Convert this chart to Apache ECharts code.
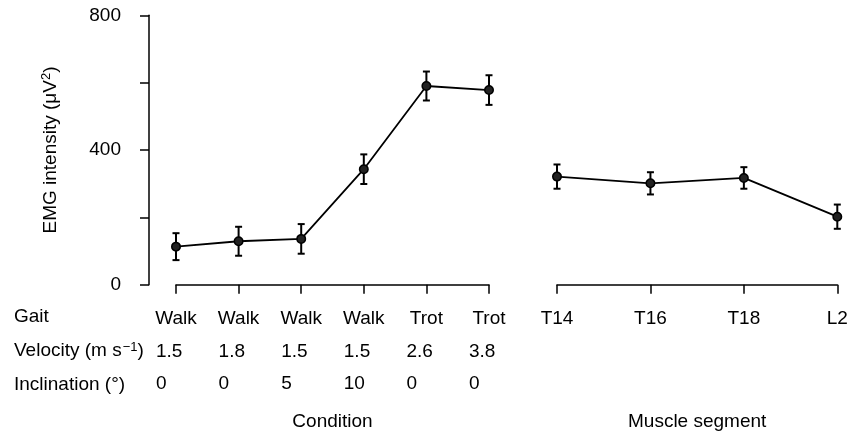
<!DOCTYPE html>
<html>
<head>
<meta charset="utf-8">
<script src="https://cdn.jsdelivr.net/npm/echarts@6/dist/echarts.min.js"></script>
<style>
  html, body { margin: 0; padding: 0; background: #fff; }
  #main { width: 848px; height: 432px; }
</style>
</head>
<body>
<div id="main"></div>
<script>
// conditions (left panel)
var gait = ['Walk', 'Walk', 'Walk', 'Walk', 'Trot', 'Trot'];
var velocity = ['1.5', '1.8', '1.5', '1.5', '2.6', '3.8'];
var inclination = ['0', '0', '5', '10', '0', '0'];
var condMeans = [113, 129, 136, 343, 590, 578];
var condErr = [40, 43, 44, 44, 43, 44];

// muscle segments (right panel)
var segments = ['T14', 'T16', 'T18', 'L2'];
var segMeans = [321, 301, 317, 202];
var segErr = [36, 33, 32, 36];

var yTicks = [0, 400, 800];

var FONT = 'Liberation Sans';
var FS = 19;
var txt = { fontFamily: FONT, fontSize: FS, color: '#000' };

var myChart = echarts.init(document.getElementById('main'));

function errBars(params, api) {
    var x = api.value(0), m = api.value(1), e = api.value(2);
    var top = api.coord([x, m + e]);
    var bot = api.coord([x, m - e]);
    var w = 3.5;
    var st = { stroke: '#000', lineWidth: 2 };
    return {
        type: 'group',
        children: [
            { type: 'line', shape: { x1: top[0], y1: top[1], x2: bot[0], y2: bot[1] }, style: st },
            { type: 'line', shape: { x1: top[0] - w, y1: top[1], x2: top[0] + w, y2: top[1] }, style: st },
            { type: 'line', shape: { x1: bot[0] - w, y1: bot[1], x2: bot[0] + w, y2: bot[1] }, style: st }
        ]
    };
}

function rowAxis(grid, data, margin, name) {
    return {
        type: 'category', gridIndex: grid, position: 'bottom',
        boundaryGap: false, data: data,
        axisLine: { show: false }, axisTick: { show: false },
        axisLabel: {
            margin: margin, interval: 0,
            formatter: function (v) { return '{a|' + v + '}'; },
            rich: { a: { width: 40, align: 'left', fontFamily: FONT, fontSize: FS, color: '#000' } }
        },
        name: name || '', nameLocation: 'middle', nameGap: 128,
        nameTextStyle: txt
    };
}

var axisLineStyle = { color: '#000', width: 1.5 };

var option = {
    animation: false,
    grid: [
        { left: 176, right: 359, top: 15.3, bottom: 147.3, containLabel: false, outerBoundsMode: 'none' },
        { left: 557, right: 10.7, top: 15.3, bottom: 147.3, containLabel: false, outerBoundsMode: 'none' }
    ],
    xAxis: [
        {
            type: 'category', gridIndex: 0, position: 'bottom', boundaryGap: false, data: gait,
            axisLine: { lineStyle: axisLineStyle },
            axisTick: { length: 9, lineStyle: axisLineStyle, alignWithLabel: true },
            axisLabel: { margin: 25, interval: 0, fontFamily: FONT, fontSize: FS, color: '#000' },
            splitLine: { show: false }
        },
        rowAxis(0, velocity, 58),
        rowAxis(0, inclination, 90, 'Condition'),
        {
            type: 'category', gridIndex: 1, position: 'bottom', boundaryGap: false, data: segments,
            axisLine: { lineStyle: axisLineStyle },
            axisTick: { length: 9, lineStyle: axisLineStyle },
            axisLabel: { margin: 25, interval: 0, fontFamily: FONT, fontSize: FS, color: '#000' },
            splitLine: { show: false },
            name: 'Muscle segment', nameLocation: 'middle', nameGap: 128, nameTextStyle: txt
        }
    ],
    yAxis: [
        {
            type: 'value', gridIndex: 0, min: 0, max: 800, interval: 200, offset: 27,
            axisLine: { show: true, lineStyle: axisLineStyle },
            axisTick: { show: true, length: 9, lineStyle: axisLineStyle },
            axisLabel: {
                margin: 28, fontFamily: FONT, fontSize: FS, color: '#000',
                formatter: function (v) { return yTicks.indexOf(v) >= 0 ? String(v) : ''; }
            },
            splitLine: { show: false },
            name: '{a|EMG intensity (μV}{s|2}{a|)}', nameLocation: 'middle', nameGap: 88,
            nameTextStyle: {
                rich: {
                    a: { fontFamily: FONT, fontSize: FS, color: '#000', lineHeight: 21 },
                    s: { fontFamily: FONT, fontSize: 13, color: '#000', verticalAlign: 'top', lineHeight: 21, padding: [0, 0, 6, 0] }
                }
            }
        },
        {
            type: 'value', gridIndex: 1, min: 0, max: 800, interval: 200, show: false,
            splitLine: { show: false }
        }
    ],
    graphic: [
        { type: 'text', left: 14, top: 307, style: { text: 'Gait', font: FS + 'px ' + FONT, fill: '#000' } },
        {
            type: 'text', left: 14, top: 341,
            style: {
                text: '{a|Velocity (m s}{s|−1}{a|)}',
                rich: {
                    a: { fontFamily: FONT, fontSize: FS, fill: '#000', lineHeight: 21 },
                    s: { fontFamily: FONT, fontSize: 13, fill: '#000', lineHeight: 21, padding: [0, 0, 7, 1] }
                }
            }
        },
        { type: 'text', left: 14, top: 375, style: { text: 'Inclination (°)', font: FS + 'px ' + FONT, fill: '#000' } }
    ],
    series: [
        {
            type: 'custom', xAxisIndex: 0, yAxisIndex: 0, renderItem: errBars, z: 2,
            data: condMeans.map(function (m, i) { return [i, m, condErr[i]]; })
        },
        {
            type: 'line', xAxisIndex: 0, yAxisIndex: 0, data: condMeans, z: 3,
            symbol: 'circle', symbolSize: 8.5,
            lineStyle: { color: '#000', width: 1.8 },
            itemStyle: { color: '#222', borderColor: '#000', borderWidth: 1.5 }
        },
        {
            type: 'custom', xAxisIndex: 3, yAxisIndex: 1, renderItem: errBars, z: 2,
            data: segMeans.map(function (m, i) { return [i, m, segErr[i]]; })
        },
        {
            type: 'line', xAxisIndex: 3, yAxisIndex: 1, data: segMeans, z: 3,
            symbol: 'circle', symbolSize: 8.5,
            lineStyle: { color: '#000', width: 1.8 },
            itemStyle: { color: '#222', borderColor: '#000', borderWidth: 1.5 }
        }
    ]
};
myChart.setOption(option);
</script>
</body>
</html>
